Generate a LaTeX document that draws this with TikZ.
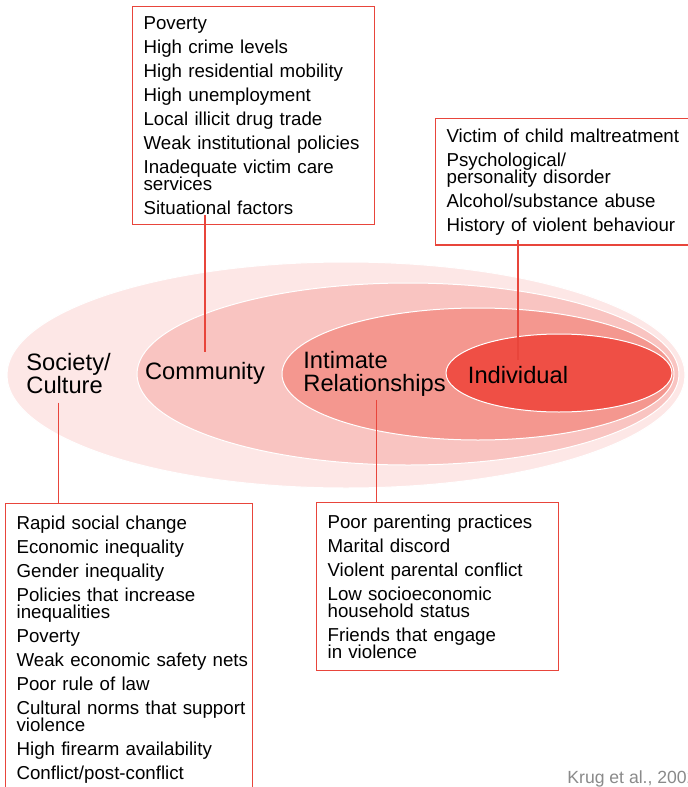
\documentclass[tikz,border=0pt]{standalone}
\usepackage{fontspec}
\setmainfont{Liberation Sans}
\definecolor{socpink}{HTML}{FDE7E6}
\definecolor{compink}{HTML}{F9C4C1}
\definecolor{relpink}{HTML}{F4978F}
\definecolor{indred}{HTML}{EF4F45}
\definecolor{boxred}{HTML}{E8453B}
\definecolor{refgray}{HTML}{8A8A8A}
\newcommand{\tightlines}{\lineskiplimit=-100pt\hyphenpenalty=10000\relax}

\begin{document}
\begin{tikzpicture}[x=0.5pt,y=-0.5pt,
	level/.style={draw=white,line width=0.5pt},
	factors/.style={draw=boxred,line width=0.6pt,anchor=north west,align=left,inner xsep=5.5pt,inner ysep=5pt,
		font=\fontsize{9.35}{8.5}\selectfont\tightlines},
	lab/.style={inner sep=0pt,font=\fontsize{11.85}{11.5}\selectfont\tightlines},
	link/.style={boxred,line width=0.6pt}]
	\useasboundingbox (0,0) rectangle (687,787);
	\fill[white] (0,0) rectangle (687,787);
	\filldraw[level,fill=socpink] (346,375) ellipse [x radius=339, y radius=113];
	\filldraw[level,fill=compink] (408,374) ellipse [x radius=271, y radius=91];
	\filldraw[level,fill=relpink] (478,374) ellipse [x radius=196, y radius=66];
	\filldraw[level,fill=indred] (559,373) ellipse [x radius=113, y radius=39];
	\node[lab,anchor=west,align=left] (society) at (26,374) {Society/\\Culture};
	\node[lab] (community) at (205,373) {Community};
	\node[lab,anchor=west,align=left] (intimate) at (303,374) {Intimate\\Relationships};
	\node[lab] (individual) at (518,375) {Individual};
	\node[factors,text width=110pt] (commbox) at (132,6) {Poverty\\[3.5pt]High crime levels\\[3.5pt]High residential mobility\\[3.5pt]High unemployment\\[3.5pt]Local illicit drug trade\\[3.5pt]Weak institutional policies\\[3.5pt]Inadequate victim care\\services\\[3.5pt]Situational factors};
	\node[factors,text width=119pt] (indbox) at (435,118) {Victim of child maltreatment\\[3.5pt]Psychological/\\personality disorder\\[3.5pt]Alcohol/substance abuse\\[3.5pt]History of violent behaviour};
	\node[factors,text width=112.5pt,inner ysep=6pt] (socbox) at (5,503) {Rapid social change\\[3.5pt]Economic inequality\\[3.5pt]Gender inequality\\[3.5pt]Policies that increase\\inequalities\\[3.5pt]Poverty\\[3.5pt]Weak~economic~safety~nets\\[3.5pt]Poor rule of law\\[3.5pt]Cultural~norms~that~support\\violence\\[3.5pt]High firearm availability\\[3.5pt]Conflict/post-conflict\\[3.5pt]\strut};
	\node[factors,text width=110pt,inner ysep=6pt] (relbox) at (316,502) {Poor parenting practices\\[3.5pt]Marital discord\\[3.5pt]Violent parental conflict\\[3.5pt]Low socioeconomic\\household status\\[3.5pt]Friends that engage\\in violence};
	\draw[link] ([yshift=5pt]community.north) -- ([yshift=5pt]community.north |- commbox.south);
	\draw[link] ([yshift=3pt]individual.north) -- ([yshift=3pt]individual.north |- indbox.south);
	\draw[link] ([xshift=1pt,yshift=-1.5pt]intimate.south) -- ([xshift=1pt]intimate.south |- relbox.north);
	\draw[link] ([xshift=-5pt,yshift=-4pt]society.south) -- ([xshift=-5pt]society.south |- socbox.north);
	\node[anchor=base west,inner sep=0pt,text=refgray,font=\fontsize{8.8}{10}\selectfont] (source) at (567,783) {Krug et al., 2002};
\end{tikzpicture}
\end{document}
